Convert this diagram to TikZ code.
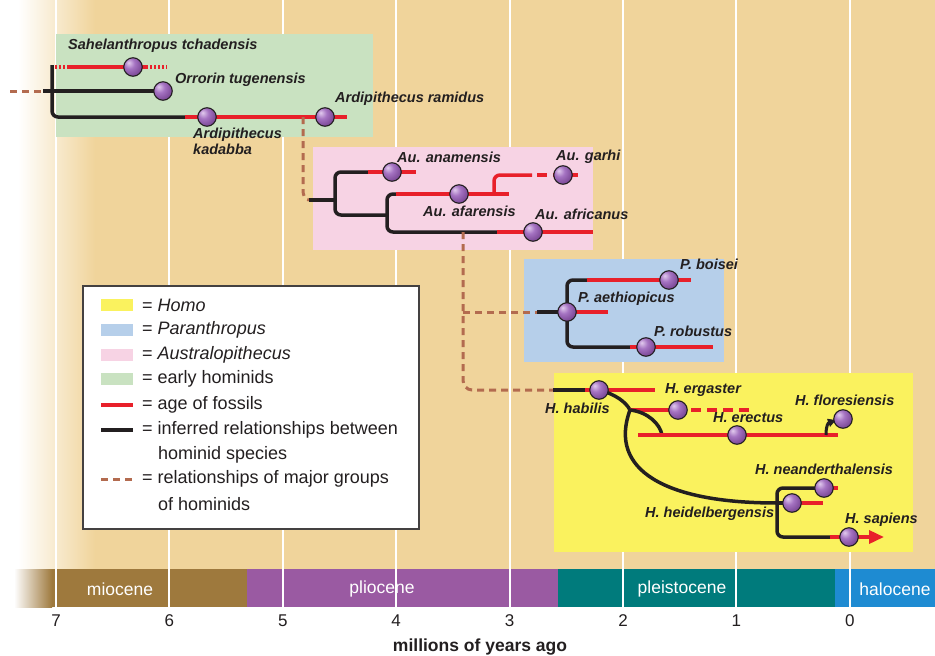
\documentclass[tikz,border=0pt]{standalone}
\usepackage{fontspec}
\setmainfont{Liberation Sans}
\usetikzlibrary{arrows.meta}
\definecolor{tanbg}{HTML}{F0D49B}
\definecolor{grn}{HTML}{C9E2C1}
\definecolor{pnk}{HTML}{F7D3E4}
\definecolor{blu}{HTML}{B6CFEA}
\definecolor{yel}{HTML}{FAF25E}
\definecolor{fred}{HTML}{E8202A}
\definecolor{fblk}{HTML}{231F20}
\definecolor{fbrn}{HTML}{B36B4F}
\definecolor{fosl}{HTML}{E2CBEE}
\definecolor{fos}{HTML}{A573C2}
\definecolor{fosd}{HTML}{74418F}
\definecolor{mio}{HTML}{9E793D}
\definecolor{pli}{HTML}{9A5AA2}
\definecolor{ple}{HTML}{007B7C}
\definecolor{hol}{HTML}{1E8BD2}
\pgfdeclareradialshading{fosball}{\pgfpoint{-12bp}{12bp}}{color(0bp)=(fosl); color(14bp)=(fos); color(34bp)=(fosd); color(70bp)=(fosd)}
\tikzset{
  redl/.style={draw=fred, line width=3.5},
  redd/.style={draw=fred, line width=3.5, dash pattern=on 10 off 6},
  redp/.style={draw=fred, line width=3.5, dash pattern=on 2 off 2},
  blkl/.style={draw=fblk, line width=3.5, rounded corners=6},
  brnl/.style={draw=fbrn, line width=3, dash pattern=on 7 off 5},
  fossil/.style={circle, minimum size=18.5, inner sep=0, draw=fblk, line width=1.1, shading=fosball},
  splabel/.style={anchor=west, inner sep=0, text=fblk, font=\fontsize{14.5}{15.5}\selectfont\bfseries\itshape, align=left},
  legtext/.style={anchor=west, inner sep=0, text=fblk, font=\fontsize{18}{24.5}\selectfont, align=left},
  epoch/.style={text=white, font=\fontsize{17.5}{19}\selectfont, inner sep=0},
  tick/.style={text=fblk, font=\fontsize{17}{19}\selectfont, inner sep=0},
  swatch/.style={minimum width=32, minimum height=12, inner sep=0},
  grid/.style={draw=white, line width=2}
}
\begin{document}
\begin{tikzpicture}[x=1pt,y=-1pt]
\useasboundingbox (0,0) rectangle (935,656);
% background
\fill[tanbg] (0,0) rectangle (935,569);
\fill[white] (0,0) rectangle (18,569);
\shade[left color=white, right color=tanbg] (18,0) rectangle (95,569);
\fill[white] (0,569) rectangle (935,656);
% epoch bar
\fill[mio] (52,569) rectangle (247,607);
\shade[left color=white, right color=mio] (14,569) rectangle (52,607);
\fill[pli] (247,569) rectangle (558,607);
\fill[ple] (558,569) rectangle (835,607);
\fill[hol] (835,569) rectangle (935,607);
% grid lines
\foreach \k in {0,...,7} {
  \draw[grid] ({56+113.4*\k},0) -- ({56+113.4*\k},607);
}
\node[epoch] (mioc) at (120,589) {miocene};
\node[epoch] (plio) at (382,589) {pliocene};
\node[epoch] (pleis) at (682,589) {pleistocene};
\node[epoch] (holo) at (895,589) {halocene};
\foreach \k/\lab in {0/7,1/6,2/5,3/4,4/3,5/2,6/1,7/0} {
  \node[tick] (t\lab) at ({56+113.4*\k},621) {\lab};
}
\node[tick, font=\fontsize{17.5}{19}\selectfont\bfseries] (axis) at (480,647) {millions of years ago};
% group boxes
\fill[grn] (56,34) rectangle (373,137);
\fill[pnk] (313,147) rectangle (593,250);
\fill[blu] (524,259) rectangle (724,362);
\fill[yel] (554,373) rectangle (913,552);
% legend
\node[draw=fblk!85, line width=1.5, fill=white, minimum width=336, minimum height=243, inner sep=0, anchor=north west] (legend) at (82,285) {};
\node[swatch, fill=yel] (swh) at (117,305) {};
\node[swatch, fill=blu] (swp) at (117,330) {};
\node[swatch, fill=pnk] (swa) at (117,355) {};
\node[swatch, fill=grn] (swe) at (117,379) {};
\coordinate (lr1) at (101,405); \coordinate (lr2) at (133,405);
\coordinate (lb1) at (101,430); \coordinate (lb2) at (133,430);
\coordinate (ld1) at (101,479); \coordinate (ld2) at (133,479);
\draw[redl] (lr1) -- (lr2);
\draw[blkl] (lb1) -- (lb2);
\draw[brnl] (ld1) -- (ld2);
\node[legtext] (lh) at (142,305) {= \textit{Homo}};
\node[legtext] (lp) at (142,330) {= \textit{Paranthropus}};
\node[legtext] (la) at (142,355) {= \textit{Australopithecus}};
\node[legtext] (le) at (142,379) {= early hominids};
\node[legtext] (lf) at (142,405) {= age of fossils};
\node[legtext] (li) at (142,430) {= inferred relationships between};
\node[legtext] (li2) at (158,455) {hominid species};
\node[legtext] (lm) at (142,479) {= relationships of major groups};
\node[legtext] (lm2) at (158,504) {of hominids};
% ---------- coordinates ----------
\coordinate (sahel) at (133,67);
\coordinate (orro) at (163,91);
\coordinate (kada) at (207,117);
\coordinate (rami) at (325,117);
\coordinate (anam) at (392,172);
\coordinate (afar) at (459,194);
\coordinate (garh) at (563,175);
\coordinate (afri) at (533,232);
\coordinate (aeth) at (567,312);
\coordinate (bois) at (669,280);
\coordinate (robu) at (646,347);
\coordinate (habi) at (599,390);
\coordinate (erga) at (678,410);
\coordinate (erec) at (737,435);
\coordinate (flor) at (843,419);
\coordinate (nean) at (824,488);
\coordinate (heid) at (792,503);
\coordinate (sapi) at (849,537);
% ---------- early hominids ----------
\coordinate (root0) at (10,91);
\coordinate (root1) at (43,91);
\coordinate (ev) at (52,65);
\coordinate (eb) at (52,117);
\coordinate (kad0) at (185,117);
\draw[brnl] (root0) -- (root1);
\draw[blkl] (root1) -- (orro);
\draw[blkl] (ev) -- (eb) -- (kad0);
\draw[redp] (55,67) -- (68,67);
\draw[redl] (67,67) -- (sahel) -- (148,67);
\draw[redp] (150,67) -- (167,67);
\draw[redl] (kad0) -- (kada) -- (rami) -- (347,117);
% to Australopithecus
\coordinate (ar0) at (303,117);
\coordinate (au0) at (309,200);
\coordinate (au1) at (335,200);
\draw[brnl] (ar0) -- (303,190) to[out=-90,in=180] (au0);
\draw[blkl] (au0) -- (au1);
% ---------- Australopithecus ----------
\coordinate (an0) at (368,172);
\coordinate (af0) at (396,194);
\coordinate (afr0) at (497,232);
\draw[blkl] (an0) -- (335,172) -- (335,215) -- (387,215);
\draw[redl] (an0) -- (anam) -- (416,172);
\draw[blkl] (af0) -- (387,194) -- (387,232) -- (afr0);
\draw[redl] (af0) -- (afar) -- (509,194);
\draw[redl, rounded corners=6] (494,194) -- (494,175) -- (532,175);
\draw[redd] (537,175) -- (garh) -- (578,175);
\draw[redl] (afr0) -- (afri) -- (593,232);
% to Paranthropus and Homo
\coordinate (bt) at (463,232);
\coordinate (pa0) at (537,312);
\coordinate (ho0) at (553,390);
\draw[brnl] (bt) -- (463,380) to[out=-90,in=180] (472,390) -- (ho0);
\draw[brnl] (463,312) -- (pa0);
% ---------- Paranthropus ----------
\coordinate (bo0) at (587,280);
\coordinate (ro0) at (630,347);
\draw[blkl] (pa0) -- (aeth);
\draw[redl] (aeth) -- (608,312);
\draw[blkl] (bo0) -- (567,280) -- (567,347) -- (ro0);
\draw[redl] (bo0) -- (bois) -- (691,280);
\draw[redl] (ro0) -- (robu) -- (713,347);
% ---------- Homo ----------
\coordinate (ha1) at (585,390);
\coordinate (sp) at (630,410);
\coordinate (ej) at (662,435);
\coordinate (hj) at (777,503);
\coordinate (fl0) at (826,435);
\coordinate (sa0) at (830,537);
\draw[blkl] (ho0) -- (ha1);
\draw[redl] (ha1) -- (habi) -- (655,390);
\draw[fblk, line width=3.5] (habi) .. controls (615,394) and (626,402) .. (sp);
\draw[redl] (sp) -- (erga) -- (687,410);
\draw[redd] (691,410) -- (750,410);
\draw[fblk, line width=3.5] (sp) .. controls (648,412) and (660,424) .. (ej);
\draw[redl] (638,435) -- (erec) -- (838,435);
\draw[fblk, line width=3, -{Triangle[length=8pt,width=8pt]}] (fl0) .. controls (826,426) and (828,423) .. (836,420);
\draw[fblk, line width=3.5] (sp) .. controls (608,470) and (665,503) .. (hj);
\draw[blkl] (hj) -- (heid);
\draw[redl] (heid) -- (823,503);
\draw[blkl] (nean) -- (777,488) -- (777,537) -- (sa0);
\draw[redl] (nean) -- (838,488);
\draw[redl, -{Triangle[length=15pt,width=13pt]}] (sa0) -- (sapi) -- (884,537);
% ---------- fossils ----------
\foreach \f in {sahel,orro,kada,rami,anam,afar,garh,afri,aeth,bois,robu,habi,erga,erec,flor,nean,heid,sapi} {
  \node[fossil] (\f n) at (\f) {};
}
% ---------- labels ----------
\node[splabel] (Lsahel) at (68,46) {Sahelanthropus tchadensis};
\node[splabel] (Lorro) at (175,80) {Orrorin tugenensis};
\node[splabel] (Lrami) at (335,99) {Ardipithecus ramidus};
\node[splabel, anchor=north west] (Lkada) at (193,128) {Ardipithecus\\kadabba};
\node[splabel] (Lanam) at (397,157) {Au. anamensis};
\node[splabel] (Lgarh) at (556,157) {Au. garhi};
\node[splabel] (Lafar) at (423,211) {Au. afarensis};
\node[splabel] (Lafri) at (535,214) {Au. africanus};
\node[splabel] (Lbois) at (680,264) {P. boisei};
\node[splabel] (Laeth) at (578,299) {P. aethiopicus};
\node[splabel] (Lrobu) at (654,331) {P. robustus};
\node[splabel] (Lhabi) at (545,408) {H. habilis};
\node[splabel] (Lerga) at (665,390) {H. ergaster};
\node[splabel] (Lerec) at (713,418) {H. erectus};
\node[splabel] (Lflor) at (795,400) {H. floresiensis};
\node[splabel] (Lnean) at (755,469) {H. neanderthalensis};
\node[splabel] (Lheid) at (645,514) {H. heidelbergensis};
\node[splabel] (Lsapi) at (845,520) {H. sapiens};
\end{tikzpicture}
\end{document}
